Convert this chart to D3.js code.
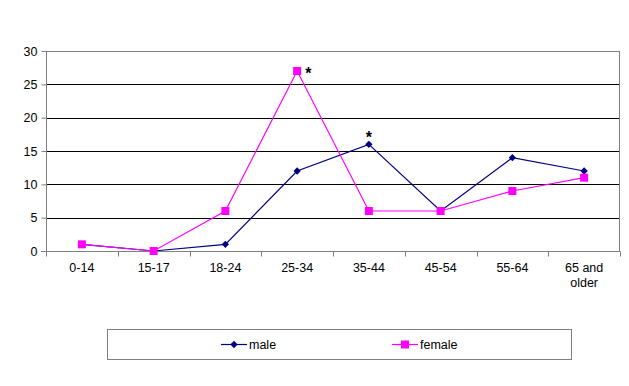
<!DOCTYPE html>
<html>
<head>
<meta charset="utf-8">
<script src="https://cdn.jsdelivr.net/npm/d3@7"></script>
<style>
  body { margin: 0; background: #fff; }
  svg { display: block; font-family: 'Liberation Sans', Arial, sans-serif; }
</style>
</head>
<body>
<script>
const categories = ['0-14', '15-17', '18-24', '25-34', '35-44', '45-54', '55-64', '65 and older']
const male = [1, 0, 1, 12, 16, 6, 14, 12]
const female = [1, 0, 6, 27, 6, 6, 9, 11]
const yTicks = [0, 5, 10, 15, 20, 25, 30]
const seriesNames = ['male', 'female']
// index of the points flagged with an asterisk
const starMale = 4
const starFemale = 3

const width = 629
const height = 386
const margin = { top: 51, right: 9, bottom: 135, left: 46 }
const innerW = width - margin.left - margin.right
const innerH = height - margin.top - margin.bottom
const fs = 12.5

const maleColor = '#000080'
const femaleColor = '#ff00ff'

const svg = d3.select('body').append('svg').attr('width', width).attr('height', height)
const g = svg.append('g').attr('transform', `translate(${margin.left},${margin.top})`)

const x = d3.scaleBand().domain(categories).range([0, innerW])
const y = d3.scaleLinear().domain([0, 30]).range([innerH, 0])
const cx = d => x(d) + x.bandwidth() / 2

// grid
g.append('g')
  .selectAll('line')
  .data(yTicks.filter(t => t > 0))
  .join('line')
  .attr('x1', 0)
  .attr('x2', innerW)
  .attr('y1', d => Math.round(y(d)) + 0.5)
  .attr('y2', d => Math.round(y(d)) + 0.5)
  .attr('stroke', d => (d === 30 ? '#808080' : '#000'))
  .attr('stroke-width', 1)

// right border
g.append('line')
  .attr('x1', innerW - 0.5)
  .attr('x2', innerW - 0.5)
  .attr('y1', 0)
  .attr('y2', innerH)
  .attr('stroke', '#808080')

// y axis
const yAxis = d3.axisLeft(y).tickValues(yTicks).tickSize(5).tickPadding(4)
g.append('g')
  .attr('transform', 'translate(0.5,0)')
  .call(yAxis)
  .call(a => a.select('.domain').attr('stroke', '#808080').attr('d', `M0,${innerH}V0`))
  .call(a => a.selectAll('line').attr('stroke', '#808080'))
  .call(a => a.selectAll('text').attr('font-size', fs).attr('fill', '#000').attr('font-family', 'Liberation Sans, Arial, sans-serif'))

// x axis
const xAxisG = g.append('g').attr('transform', `translate(0,${Math.round(innerH) + 0.5})`)
xAxisG.append('line').attr('x1', -5).attr('x2', innerW).attr('stroke', '#808080')
xAxisG.selectAll('.tick')
  .data(d3.range(categories.length + 1))
  .join('line')
  .attr('x1', i => Math.round(i * x.step()) + 0.5)
  .attr('x2', i => Math.round(i * x.step()) + 0.5)
  .attr('y1', 0)
  .attr('y2', 5)
  .attr('stroke', '#808080')
xAxisG.selectAll('text')
  .data(categories)
  .join('text')
  .attr('x', d => cx(d))
  .attr('y', 20)
  .attr('text-anchor', 'middle')
  .attr('font-size', fs)
  .attr('fill', '#000')
  .each(function (d) {
    const parts = d === '65 and older' ? ['65 and', 'older'] : [d]
    d3.select(this).selectAll('tspan')
      .data(parts)
      .join('tspan')
      .attr('x', cx(d))
      .attr('dy', (p, i) => (i === 0 ? 0 : 15.5))
      .text(p => p)
  })

const line = d3.line().x((v, i) => cx(categories[i])).y(v => y(v))

// male
g.append('path').datum(male).attr('d', line).attr('fill', 'none').attr('stroke', maleColor).attr('stroke-width', 1.2)
g.selectAll('.mpt').data(male).join('path')
  .attr('class', 'mpt')
  .attr('d', d3.symbol(d3.symbolDiamond2, 34))
  .attr('transform', (v, i) => `translate(${cx(categories[i])},${y(v)})`)
  .attr('fill', maleColor)

// female
g.append('path').datum(female).attr('d', line).attr('fill', 'none').attr('stroke', femaleColor).attr('stroke-width', 1.2)
g.selectAll('.fpt').data(female).join('rect')
  .attr('class', 'fpt')
  .attr('x', (v, i) => cx(categories[i]) - 4)
  .attr('y', v => y(v) - 4)
  .attr('width', 8)
  .attr('height', 8)
  .attr('fill', femaleColor)

// asterisks
g.append('text')
  .attr('x', cx(categories[starFemale]) + 8)
  .attr('y', y(female[starFemale]) + 8)
  .attr('font-size', 16)
  .attr('font-weight', 'bold')
  .text('*')
g.append('text')
  .attr('x', cx(categories[starMale]))
  .attr('y', y(male[starMale]) - 1)
  .attr('text-anchor', 'middle')
  .attr('font-size', 16)
  .attr('font-weight', 'bold')
  .text('*')

// legend
const legend = svg.append('g')
legend.append('rect')
  .attr('x', 107.5).attr('y', 329.5).attr('width', 464).attr('height', 30)
  .attr('fill', '#fff').attr('stroke', '#808080')
const legX = [221, 392]
seriesNames.forEach((name, i) => {
  const color = i === 0 ? maleColor : femaleColor
  const lg = legend.append('g').attr('transform', `translate(${legX[i]},344.5)`)
  lg.append('line').attr('x1', 0).attr('x2', 26).attr('stroke', color).attr('stroke-width', 1.2)
  if (i === 0) {
    lg.append('path').attr('d', d3.symbol(d3.symbolDiamond2, 34)).attr('transform', 'translate(13,0)').attr('fill', color)
  } else {
    lg.append('rect').attr('x', 9).attr('y', -4).attr('width', 8).attr('height', 8).attr('fill', color)
  }
  lg.append('text').attr('x', 28).attr('y', 4.5).attr('font-size', fs).attr('fill', '#000').text(name)
})
</script>
</body>
</html>
